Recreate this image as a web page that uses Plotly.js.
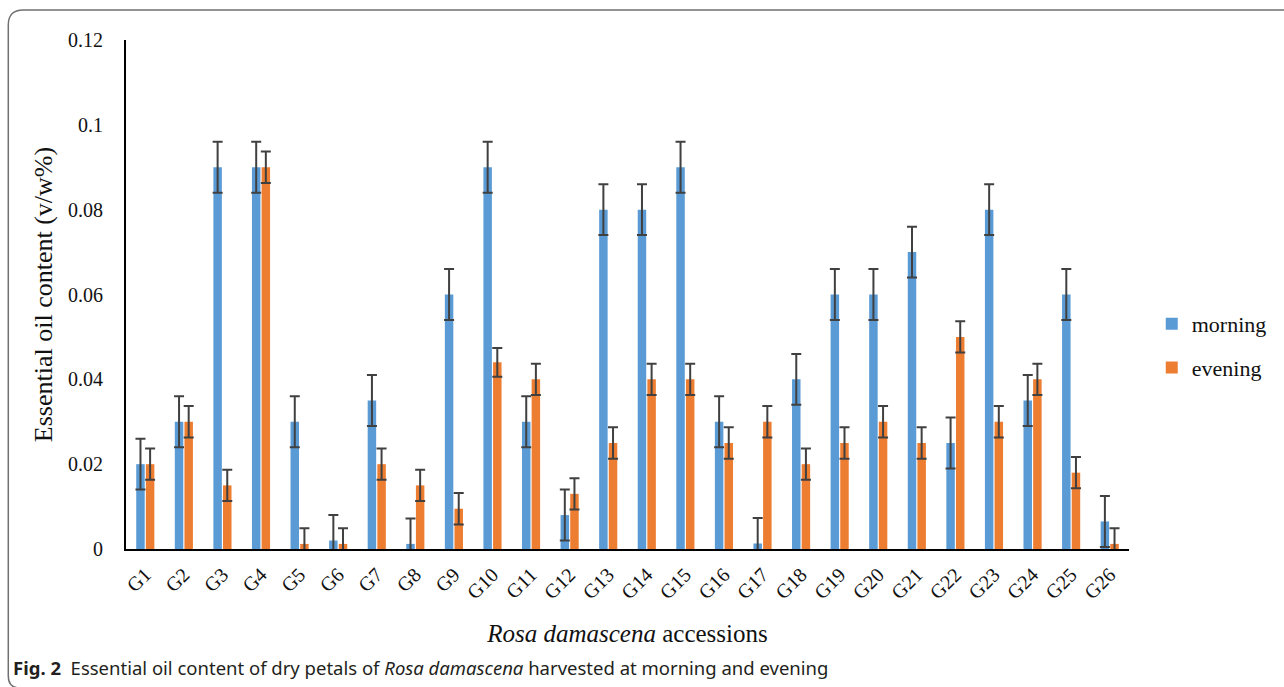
<!DOCTYPE html>
<html>
<head>
<meta charset="utf-8">
<script src="https://cdn.plot.ly/plotly-3.0.1.min.js"></script>
<style>html,body{margin:0;padding:0;background:#fff;}#chart{width:1284px;height:687px;}</style>
</head>
<body>
<div id="chart"></div>
<script>
const categories = ["G1","G2","G3","G4","G5","G6","G7","G8","G9","G10","G11","G12","G13","G14","G15","G16","G17","G18","G19","G20","G21","G22","G23","G24","G25","G26"];
const morning = [0.02,0.03,0.09,0.09,0.03,0.002,0.035,0.0012,0.06,0.09,0.03,0.008,0.08,0.08,0.09,0.03,0.0013,0.04,0.06,0.06,0.07,0.025,0.08,0.035,0.06,0.0065];
const evening = [0.02,0.03,0.015,0.09,0.0012,0.0012,0.02,0.015,0.0095,0.044,0.04,0.013,0.025,0.04,0.04,0.025,0.03,0.02,0.025,0.03,0.025,0.05,0.03,0.04,0.018,0.0012];
const morningErr = [0.006,0.006,0.006,0.006,0.006,0.006,0.006,0.006,0.006,0.006,0.006,0.006,0.006,0.006,0.006,0.006,0.006,0.006,0.006,0.006,0.006,0.006,0.006,0.006,0.006,0.006];
const eveningErr = [0.0037,0.0037,0.0037,0.0037,0.0037,0.0037,0.0037,0.0037,0.0037,0.0034,0.0037,0.0037,0.0037,0.0037,0.0037,0.0037,0.0037,0.0037,0.0037,0.0037,0.0037,0.0037,0.0037,0.0037,0.0037,0.0037];

const W = 1284, H = 687;
const M = {l:126, r:144, t:40, b:138};
const pw = W - M.l - M.r, ph = H - M.t - M.b;
const px = x => (x - M.l) / pw;
const py = y => (H - M.b - y) / ph;

const serif = "Liberation Serif, Times New Roman, serif";
const errStyle = c => ({type:'data', array:c, visible:true, color:'#404040', thickness:2, width:5});

const traces = [
  {type:'bar', name:'morning', x:categories, y:morning, marker:{color:'#5B9BD5'}, error_y:errStyle(morningErr), legendgroup:'a'},
  {type:'bar', name:'evening', x:categories, y:evening, marker:{color:'#ED7D31'}, error_y:errStyle(eveningErr), legendgroup:'b'}
];

const framePath = `M ${px(1300)},${py(10)} L ${px(22)},${py(10)} Q ${px(7)},${py(10)} ${px(7)},${py(25)} L ${px(7)},${py(676)} Q ${px(7)},${py(688)} ${px(19)},${py(688)}`;

const layout = {
  width: W, height: H,
  margin: M,
  paper_bgcolor:'#fff', plot_bgcolor:'#fff',
  barmode:'group', bargap:0.5, bargroupgap:0.12,
  showlegend:true,
  legend:{x:px(1163), y:py(303), xanchor:'left', yanchor:'top', font:{family:serif, size:22, color:'#111'}, itemwidth:30, tracegroupgap:12, traceorder:'grouped', bgcolor:'rgba(0,0,0,0)'},
  xaxis:{
    type:'category', range:[-0.5,25.5],
    showline:true, linecolor:'#000', linewidth:2,
    ticks:'outside', ticklen:4, tickcolor:'rgba(0,0,0,0)', tickangle:-45, showgrid:false, zeroline:false,
    tickfont:{family:serif, size:20, color:'#111'},
    title:{text:'<i>Rosa damascena</i> accessions', font:{family:serif, size:25, color:'#111'}, standoff:22}
  },
  yaxis:{
    range:[0,0.12], dtick:0.02, tick0:0,
    showline:true, linecolor:'#000', linewidth:2,
    ticks:'outside', ticklen:17, tickcolor:'rgba(0,0,0,0)',
    showgrid:false, zeroline:false,
    tickfont:{family:serif, size:20, color:'#111'},
    title:{text:'Essential oil content (v/w%)', font:{family:serif, size:26, color:'#111'}, standoff:8}
  },
  shapes:[{type:'path', xref:'paper', yref:'paper', path:framePath, line:{color:'#707070', width:1.5}}],
  annotations:[{
    xref:'paper', yref:'paper', x:px(10), y:py(667), xanchor:'left', yanchor:'middle', showarrow:false,
    text:'<b>Fig. 2</b>  Essential oil content of dry petals of <i>Rosa damascena</i> harvested at morning and evening',
    font:{family:'Noto Sans, Open Sans, sans-serif', size:18.5, color:'#231f20'}
  }]
};

Plotly.newPlot('chart', traces, layout, {displayModeBar:false, staticPlot:true});
</script>
</body>
</html>
